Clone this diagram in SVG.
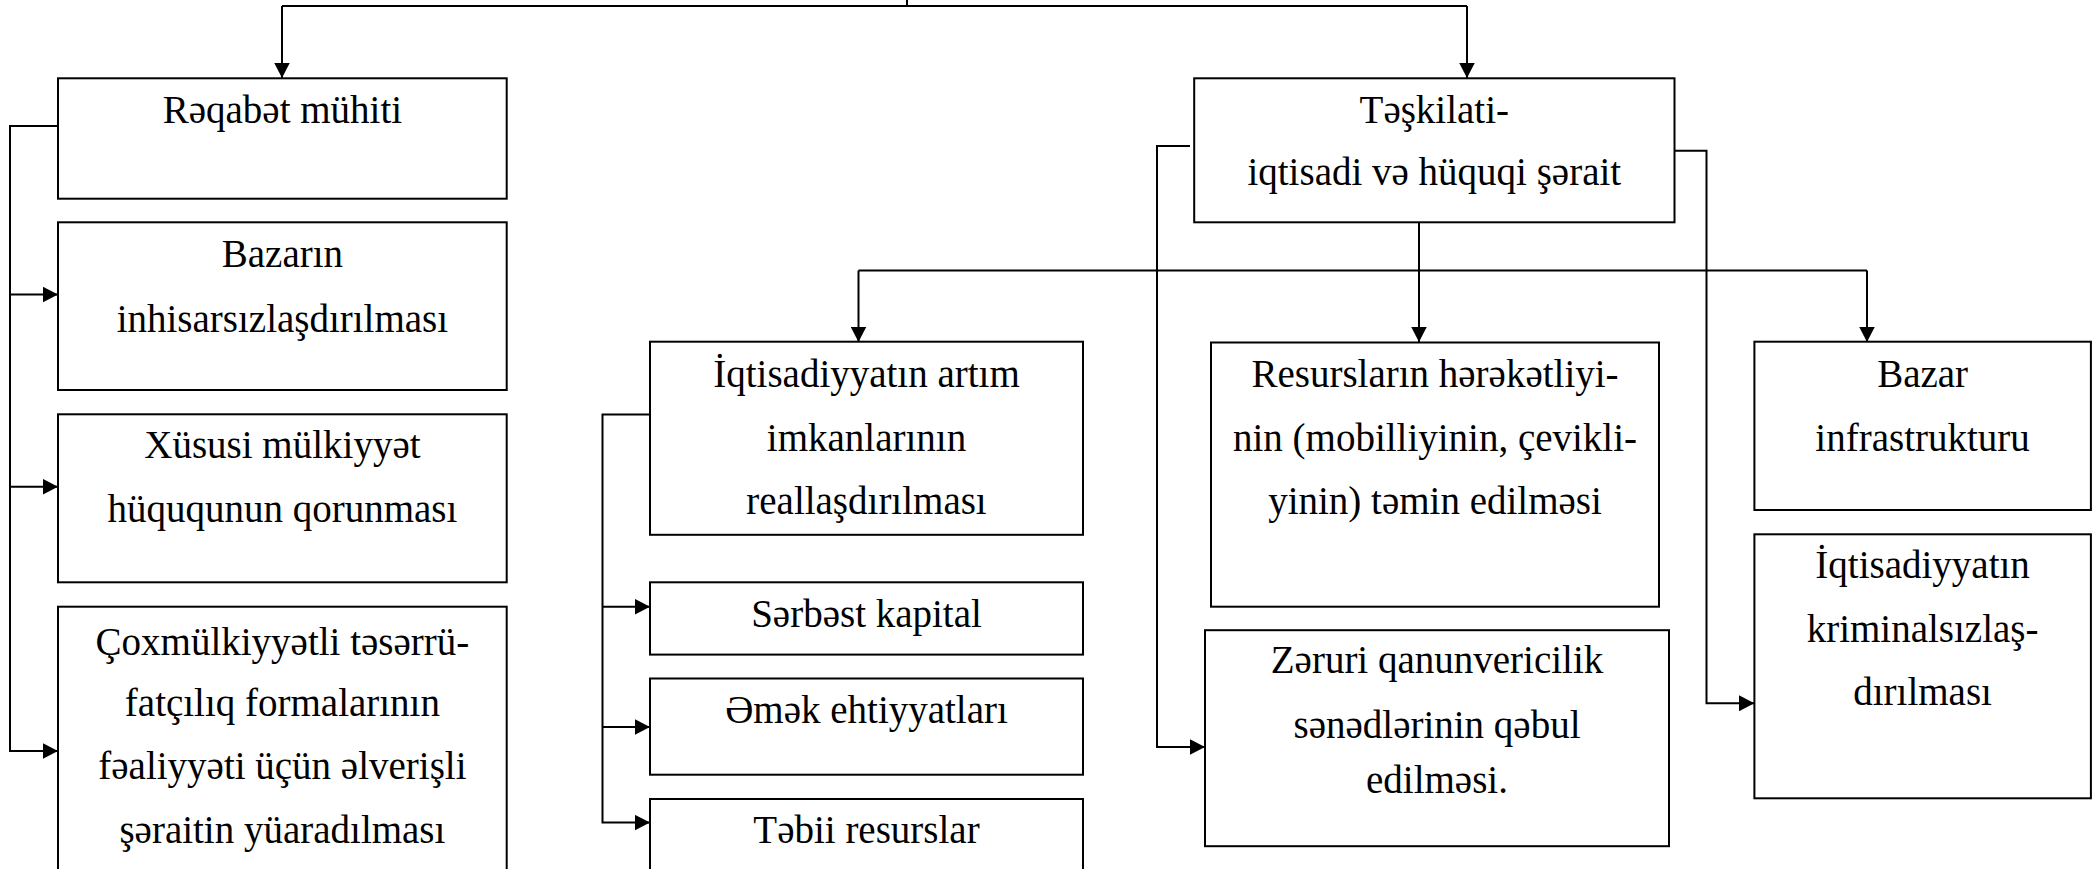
<svg xmlns="http://www.w3.org/2000/svg" width="2096" height="869" viewBox="0 0 2096 869" font-family="'Liberation Serif', 'DejaVu Serif', serif">
<style>
rect.box{fill:#fff;stroke:#000;stroke-width:2}
text{font-size:39px;fill:#000;text-anchor:middle}
.conn path{fill:none;stroke:#000;stroke-width:2}
</style>
<defs>
<marker id="ah" markerUnits="userSpaceOnUse" markerWidth="16" markerHeight="16" refX="15.5" refY="8" orient="auto" viewBox="0 0 16 16">
<path d="M0,0 L15.5,8 L0,16 Z" fill="#000"/>
</marker>
</defs>
<rect width="2096" height="869" fill="#fff"/>

<g class="conn" id="connectors">
<path d="M907,0 V6"/>
<path d="M282,6 H1467"/>
<path d="M282,6 V78" marker-end="url(#ah)"/>
<path d="M1467,6 V78" marker-end="url(#ah)"/>
<path d="M58,126 H10 V751 H58" marker-end="url(#ah)"/>
<path d="M10,294.5 H58" marker-end="url(#ah)"/>
<path d="M10,486.7 H58" marker-end="url(#ah)"/>
<path d="M1419,222 V342" marker-end="url(#ah)"/>
<path d="M858.5,270.5 H1867"/>
<path d="M858.5,270.5 V342" marker-end="url(#ah)"/>
<path d="M1867,270.5 V342" marker-end="url(#ah)"/>
<path d="M1190,146 H1157 V747 H1205" marker-end="url(#ah)"/>
<path d="M1674.5,150.7 H1706.5 V703.3 H1754.4" marker-end="url(#ah)"/>
<path d="M650,414.5 H602.5 V822.6 H650" marker-end="url(#ah)"/>
<path d="M602.5,606.7 H650" marker-end="url(#ah)"/>
<path d="M602.5,727 H650" marker-end="url(#ah)"/>
</g>

<g id="n-reqabet">
<rect class="box" x="58" y="78.3" width="448.7" height="120.4"/>
<text x="282.4" y="123">Rəqabət mühiti</text>
</g>
<g id="n-bazarin">
<rect class="box" x="58" y="222.3" width="448.7" height="167.7"/>
<text x="282.4" y="266.7">Bazarın</text>
<text x="282.4" y="331.7">inhisarsızlaşdırılması</text>
</g>
<g id="n-xususi">
<rect class="box" x="58" y="414.3" width="448.7" height="168"/>
<text x="282.4" y="458.3">Xüsusi mülkiyyət</text>
<text x="282.4" y="522">hüququnun qorunması</text>
</g>
<g id="n-coxmulkiyyetli">
<rect class="box" x="58" y="606.7" width="448.7" height="280"/>
<text x="282.4" y="655">Çoxmülkiyyətli təsərrü-</text>
<text x="282.4" y="716">fatçılıq formalarının</text>
<text x="282.4" y="779">fəaliyyəti üçün əlverişli</text>
<text x="282.4" y="843">şəraitin yüaradılması</text>
</g>

<g id="n-teskilati">
<rect class="box" x="1194.2" y="78.3" width="480.3" height="144"/>
<text x="1434.3" y="123.3">Təşkilati-</text>
<text x="1434.3" y="185">iqtisadi və hüquqi şərait</text>
</g>

<g id="n-iqtisadiyyatin-artim">
<rect class="box" x="650" y="341.7" width="433" height="193.1"/>
<text x="866.5" y="387.1">İqtisadiyyatın artım</text>
<text x="866.5" y="450.6">imkanlarının</text>
<text x="866.5" y="514.1">reallaşdırılması</text>
</g>
<g id="n-serbest">
<rect class="box" x="650" y="582.3" width="433" height="72.3"/>
<text x="866.5" y="626.6">Sərbəst kapital</text>
</g>
<g id="n-emek">
<rect class="box" x="650" y="678.5" width="433" height="96.2"/>
<text x="866.5" y="722.8">Əmək ehtiyyatları</text>
</g>
<g id="n-tebii">
<rect class="box" x="650" y="799" width="433" height="90"/>
<text x="866.5" y="842.5">Təbii resurslar</text>
</g>

<g id="n-resurslarin">
<rect class="box" x="1211" y="342.5" width="448" height="264.2"/>
<text x="1435" y="387">Resursların hərəkətliyi-</text>
<text x="1435" y="451">nin (mobilliyinin, çevikli-</text>
<text x="1435" y="514">yinin) təmin edilməsi</text>
</g>
<g id="n-zeruri">
<rect class="box" x="1205" y="630.2" width="464" height="216"/>
<text x="1437" y="673.3">Zəruri qanunvericilik</text>
<text x="1437" y="738.3">sənədlərinin qəbul</text>
<text x="1437" y="793.3">edilməsi.</text>
</g>

<g id="n-bazar">
<rect class="box" x="1754.4" y="341.7" width="336.5" height="168.3"/>
<text x="1922.6" y="386.7">Bazar</text>
<text x="1922.6" y="450.7">infrastrukturu</text>
</g>
<g id="n-kriminal">
<rect class="box" x="1754.4" y="534.3" width="336.5" height="264"/>
<text x="1922.6" y="578.3">İqtisadiyyatın</text>
<text x="1922.6" y="641.7">kriminalsızlaş-</text>
<text x="1922.6" y="705">dırılması</text>
</g>
</svg>
